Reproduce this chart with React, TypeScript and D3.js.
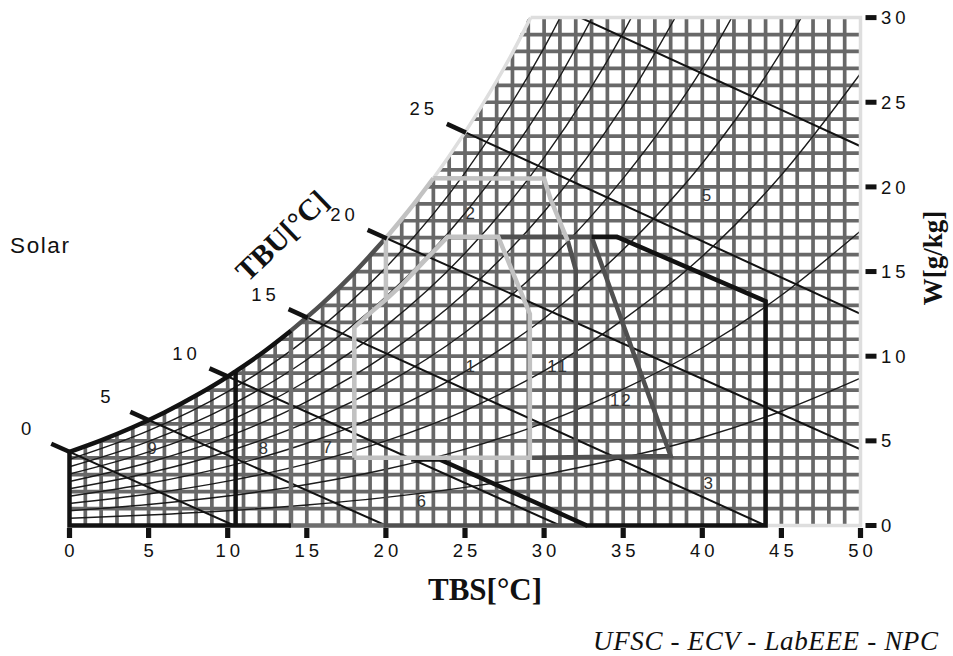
import React from 'react';
import * as d3 from 'd3';

// ---------- axis ticks ----------
const tbsTicks = [0, 5, 10, 15, 20, 25, 30, 35, 40, 45, 50];
const wTicks = [0, 5, 10, 15, 20, 25, 30];

// ---------- saturation curve (TBS °C, W g/kg) ----------
const satT = [0, 2, 4, 6, 8, 10, 10.5, 12, 14, 16, 18, 20, 22, 23, 24, 26, 28, 29.15];
const satW = [4.35, 5.03, 5.8, 6.68, 7.68, 8.8, 9.11, 10.07, 11.51, 13.12, 14.94, 16.98, 19.27, 20.51, 21.83, 24.7, 27.92, 30.0];

// ---------- relative humidity curves 10%..90% ----------
const rhT = [0, 5, 10, 15, 20, 25, 30, 35, 40, 45, 50];
const rh10 = [0.43, 0.62, 0.87, 1.21, 1.66, 2.25, 3.01, 4.0, 5.2, 6.75, 8.7];
const rh20 = [0.87, 1.24, 1.74, 2.42, 3.32, 4.51, 6.06, 8.05, 10.5, 13.6, 17.4];
const rh30 = [1.3, 1.86, 2.62, 3.64, 5.0, 6.79, 9.13, 12.16, 15.9, 20.7, 26.7];
const rh40 = [1.73, 2.48, 3.49, 4.86, 6.68, 9.09, 12.23, 16.3, 21.4, 28.0, 36.5];
const rh50 = [2.17, 3.1, 4.37, 6.09, 8.37, 11.4, 15.36, 20.5, 27.0, 35.5];
const rh60 = [2.6, 3.72, 5.25, 7.32, 10.08, 13.73, 18.53, 24.8, 32.9];
const rh70 = [3.04, 4.35, 6.14, 8.55, 11.79, 16.08, 21.73, 29.1, 38.8];
const rh80 = [3.47, 4.97, 7.02, 9.79, 13.51, 18.44, 24.95, 33.5];
const rh90 = [3.91, 5.6, 7.91, 11.04, 15.24, 20.83, 28.21, 37.9];
const rhSeries = [rh10, rh20, rh30, rh40, rh50, rh60, rh70, rh80, rh90];

// ---------- wet bulb lines (TBU) ----------
const wbLabels = ['0', '5', '10', '15', '20', '25'];
const wbStartT = [0, 5, 10, 15, 20, 25];
const wbStartW = [4.35, 6.23, 8.8, 12.29, 16.98, 23.23];
const wbEndT = [10.4, 20, 31, 44, 50, 50];
const wbEndW = [0, 0, 0, 0, 4.5, 12.5];
const wb30T = [32.3, 50];
const wb30W = [30, 22.4];

// ---------- zone outlines ----------
const comfortT = [18, 18, 19, 20, 21.1, 22.4, 23.9, 27.1, 29.1, 29.1, 18];
const comfortW = [4, 11.7, 12.55, 13.35, 14.3, 15.6, 17.05, 17.05, 12.5, 4, 4];
const ventLeftT = [20, 20];
const ventLeftW = [13.35, 16.98];
const ventTopT = [23, 30, 30.4, 31.5];
const ventTopW = [20.51, 20.5, 19.3, 16.8];
const heatT = [14, 0, 0];
const heatW = [0, 0, 4.35];
const solarT = [10.5, 10.5];
const solarW = [0, 9.11];
const massHeatT = [14, 14, 20];
const massHeatW = [11.51, 0, 0];
const humidT = [20, 20, 32.7];
const humidW = [4, 0, 0];
const evapT = [21.6, 23.4, 32.7, 44, 44, 34.6, 33];
const evapW = [3.9, 3.9, 0, 0, 13.25, 17.05, 17.05];
const ventMassT = [27.1, 33];
const ventMassW = [17.05, 17.05];
const zone11T = [31.5, 32, 32];
const zone11W = [16.8, 15.1, 4];
const zone12T = [29.1, 38, 33];
const zone12W = [4, 4.1, 17.05];
const outerT = [44, 50, 50, 29.15];
const outerW = [0, 0, 30, 30];

// ---------- zone labels ----------
const zoneLabels = ['1', '2', '3', '5', '6', '7', '8', '9', '11', '12'];
const zoneLabelT = [25.33, 25.33, 40.38, 40.26, 22.23, 16.29, 12.24, 5.22, 30.82, 34.82];
const zoneLabelW = [9.38, 18.44, 2.51, 19.52, 1.39, 4.58, 4.52, 4.52, 9.38, 7.41];

const SANS = '"Liberation Sans", Arial, sans-serif';
const SERIF = '"Liberation Serif", "Times New Roman", serif';
const BLACK = '#121212';
const DARK = '#505050';
const MID = '#6e6e6e';
const LIGHT = '#c2c2c2';
const LIGHTER = '#dedede';
const GRID = '#686868';

export default function App() {
  const width = 953;
  const height = 656;
  const x = d3.scaleLinear().domain([0, 50]).range([69.5, 860.5]);
  const y = d3.scaleLinear().domain([0, 30]).range([525.5, 17.6]);

  const pts = (ts: number[], ws: number[]) => ts.map((t, i) => [x(t), y(ws[i])] as [number, number]);
  const poly = d3.line();
  const smooth = d3.line().curve(d3.curveMonotoneX);

  const satSeg = (a: number, b: number) => {
    const ts: number[] = [];
    const ws: number[] = [];
    satT.forEach((t, i) => {
      if (t >= a - 1e-9 && t <= b + 1e-9) {
        ts.push(t);
        ws.push(satW[i]);
      }
    });
    return smooth(pts(ts, ws)) || '';
  };

  const clipT = [...satT, 50];
  const clipW = [...satW, 30];
  const clipArea =
    d3
      .area<number>()
      .x((d) => x(clipT[d]))
      .y0(y(0))
      .y1((d) => y(clipW[d]))
      .curve(d3.curveMonotoneX)(d3.range(clipT.length)) || '';

  const gridV = d3.range(1, 50);
  const gridH = d3.range(1, 30);

  const zoneLine = (ts: number[], ws: number[], color: string, w: number, key: string) => (
    <path key={key} d={poly(pts(ts, ws)) || ''} fill="none" stroke={color} strokeWidth={w} strokeLinejoin="miter" />
  );

  const ls = 4;

  return (
    <svg
      width={width}
      height={height}
      viewBox={`0 0 ${width} ${height}`}
      style={{ position: 'absolute', left: 0, top: 0, background: '#fff' }}
    >
      <defs>
        <clipPath id="satClip">
          <path d={clipArea} />
        </clipPath>
        <clipPath id="plotClip">
          <rect x={x(0)} y={y(30)} width={x(50) - x(0)} height={y(0) - y(30)} />
        </clipPath>
      </defs>
      <rect x={0} y={0} width={width} height={height} fill="#fff" />

      {/* grid */}
      <g clipPath="url(#satClip)" stroke={GRID} strokeWidth={3.7}>
        {gridV.map((t) => (
          <line key={'v' + t} x1={x(t)} x2={x(t)} y1={y(0)} y2={y(30)} />
        ))}
        {gridH.map((w) => (
          <line key={'h' + w} x1={x(0)} x2={x(50)} y1={y(w)} y2={y(w)} />
        ))}
      </g>

      {/* RH curves */}
      <g clipPath="url(#plotClip)" fill="none" stroke="#1c1c1c" strokeWidth={1.4}>
        {rhSeries.map((s, k) => (
          <path key={'rh' + k} d={smooth(pts(rhT.slice(0, s.length), s)) || ''} />
        ))}
      </g>

      {/* wet bulb lines */}
      <g clipPath="url(#plotClip)" fill="none" stroke={BLACK} strokeWidth={2}>
        {wbStartT.map((t, i) => (
          <path key={'wb' + i} d={poly(pts([t, wbEndT[i]], [wbStartW[i], wbEndW[i]])) || ''} />
        ))}
        <path d={poly(pts(wb30T, wb30W)) || ''} />
      </g>

      {/* zone outlines */}
      {zoneLine(outerT, outerW, LIGHTER, 3.5, 'outer')}
      <path d={satSeg(23, 29.15)} fill="none" stroke={LIGHTER} strokeWidth={3.5} />
      {zoneLine(massHeatT, massHeatW, MID, 4.5, 'massHeat')}
      {zoneLine(humidT, humidW, DARK, 4.5, 'humid')}
      {zoneLine(ventMassT, ventMassW, DARK, 4.5, 'ventMass')}
      {zoneLine(zone11T, zone11W, DARK, 4.5, 'z11')}
      {zoneLine(zone12T, zone12W, DARK, 4.5, 'z12')}
      <path d={satSeg(14, 20)} fill="none" stroke={DARK} strokeWidth={4.5} />
      {zoneLine(evapT, evapW, BLACK, 4.5, 'evap')}
      {zoneLine(ventLeftT, ventLeftW, LIGHT, 4.5, 'ventL')}
      {zoneLine(ventTopT, ventTopW, LIGHT, 4.5, 'ventT')}
      <path d={satSeg(20, 23)} fill="none" stroke={LIGHT} strokeWidth={4.5} />
      {zoneLine(comfortT, comfortW, LIGHT, 4.5, 'comfort')}
      {zoneLine(heatT, heatW, BLACK, 4.5, 'heat')}
      {zoneLine(solarT, solarW, BLACK, 4.5, 'solar')}
      <path d={satSeg(0, 14)} fill="none" stroke={BLACK} strokeWidth={4.5} />

      {/* wet bulb ticks and labels */}
      {wbStartT.map((t, i) => {
        const sx = x(t);
        const sy = y(wbStartW[i]);
        const ex = x(wbEndT[i]);
        const ey = y(wbEndW[i]);
        const L = Math.hypot(ex - sx, ey - sy);
        const ux = (ex - sx) / L;
        const uy = (ey - sy) / L;
        const ox = sx - 20 * ux;
        const oy = sy - 20 * uy;
        return (
          <g key={'wbt' + i}>
            <line x1={ox} y1={oy} x2={sx + ux} y2={sy + uy} stroke={BLACK} strokeWidth={4.5} />
            <text
              x={ox - 25 + ls / 2}
              y={oy - 15}
              fontFamily={SANS}
              fontSize={18.5}
              letterSpacing={ls}
              textAnchor="middle"
              dominantBaseline="central"
              fill="#111"
            >
              {wbLabels[i]}
            </text>
          </g>
        );
      })}

      {/* zone labels */}
      {zoneLabels.map((lab, i) => (
        <text
          key={'zl' + i}
          x={x(zoneLabelT[i]) + 1}
          y={y(zoneLabelW[i])}
          fontFamily={SANS}
          fontSize={17}
          letterSpacing={2}
          textAnchor="middle"
          dominantBaseline="central"
          fill="#333"
        >
          {lab}
        </text>
      ))}

      {/* bottom axis ticks */}
      {tbsTicks.map((t) => (
        <g key={'bt' + t}>
          <rect x={x(t) - 2.6} y={528} width={5.2} height={10} fill={BLACK} />
          <text
            x={x(t) + ls / 2}
            y={556.5}
            fontFamily={SANS}
            fontSize={18.5}
            letterSpacing={ls}
            textAnchor="middle"
            fill="#111"
          >
            {t}
          </text>
        </g>
      ))}

      {/* right axis ticks */}
      {wTicks.map((w) => (
        <g key={'rt' + w}>
          <rect x={865.5} y={y(w) - 2.5} width={11} height={5} fill={BLACK} />
          <text
            x={881}
            y={y(w) + 6.6}
            fontFamily={SANS}
            fontSize={18.5}
            letterSpacing={ls}
            textAnchor="start"
            fill="#111"
          >
            {w}
          </text>
        </g>
      ))}

      {/* titles */}
      <text x={485} y={600} fontFamily={SERIF} fontWeight="bold" fontSize={31} textAnchor="middle" fill="#111">
        TBS[°C]
      </text>
      <text
        transform="translate(942,258) rotate(-90)"
        fontFamily={SERIF}
        fontWeight="bold"
        fontSize={27}
        textAnchor="middle"
        fill="#111"
      >
        W[g/kg]
      </text>
      <text
        transform="translate(289,243) rotate(-44)"
        fontFamily={SERIF}
        fontWeight="bold"
        fontSize={30}
        textAnchor="middle"
        fill="#111"
      >
        TBU[°C]
      </text>
      <text x={10} y={253} fontFamily={SANS} fontSize={22.5} textLength={59} lengthAdjust="spacing" fill="#111">
        Solar
      </text>
      <text
        x={593}
        y={650}
        fontFamily={SERIF}
        fontStyle="italic"
        fontSize={27}
        textLength={345}
        lengthAdjust="spacing"
        fill="#111"
      >
        UFSC - ECV - LabEEE - NPC
      </text>
    </svg>
  );
}
